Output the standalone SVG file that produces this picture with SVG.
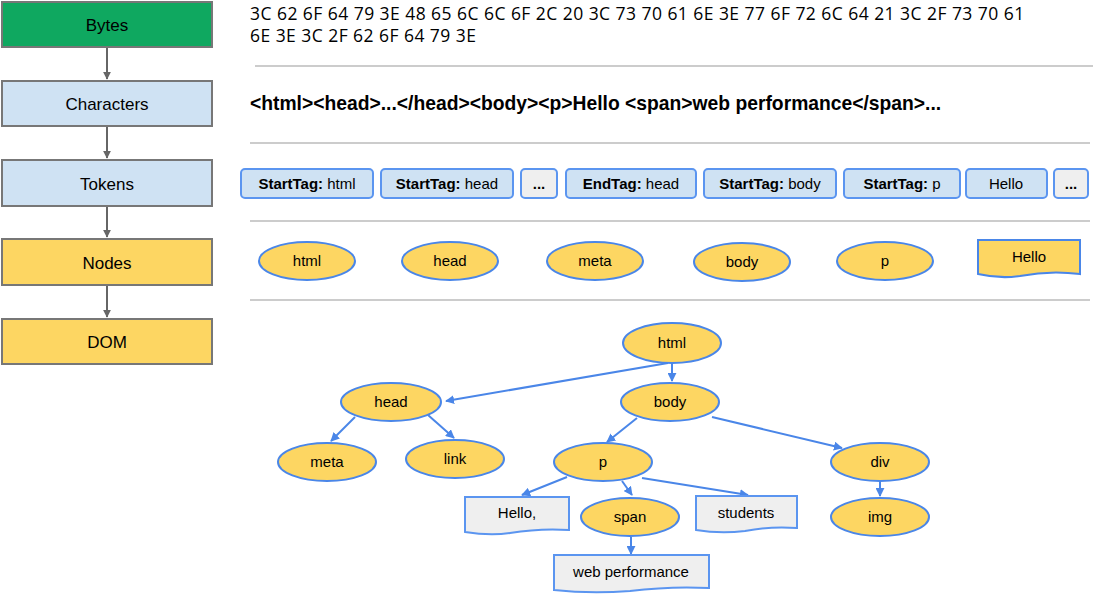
<svg xmlns="http://www.w3.org/2000/svg" width="1095" height="596" viewBox="0 0 1095 596">
<defs>
<marker id="ga" viewBox="0 0 10 10" refX="9" refY="5" markerWidth="4" markerHeight="4" orient="auto"><path d="M0,0L10,5L0,10z" fill="#666"/></marker>
<marker id="ba" viewBox="0 0 10 10" refX="9" refY="5" markerWidth="4.5" markerHeight="4.5" orient="auto"><path d="M0,0L10,5L0,10z" fill="#4a86e8"/></marker>
</defs>
<style>
text{font-family:Arial,"Liberation Sans",sans-serif;fill:#000}
.stage{stroke:#777;stroke-width:2}
.st{font-size:17px;text-anchor:middle}
.hex{font-family:"Open Sans",sans-serif;font-size:17.5px;letter-spacing:0.45px}
.sep{stroke:#ccc;stroke-width:2}
.tok{fill:#cfe2f3;stroke:#5b95f0;stroke-width:2}
.gray{fill:#efefef;stroke:#5b95f0;stroke-width:2}
.nd{fill:#fdd662;stroke:#4a86e8;stroke-width:2}
.tx{font-size:15px;text-anchor:middle}
.g line,.g path{stroke:#666;stroke-width:2;fill:none}
.b line{stroke:#4a86e8;stroke-width:2}
</style>
<g id="stages">
<g id="bytes"><rect class="stage" x="2" y="2" width="210" height="45" fill="#0fa860"/><text class="st" x="107" y="31">Bytes</text></g>
<g id="characters"><rect class="stage" x="2" y="81" width="210" height="45" fill="#cfe2f3"/><text class="st" x="107" y="110">Characters</text></g>
<g id="tokens"><rect class="stage" x="2" y="160" width="210" height="46" fill="#cfe2f3"/><text class="st" x="107" y="190">Tokens</text></g>
<g id="nodes"><rect class="stage" x="2" y="239" width="210" height="46" fill="#fdd662"/><text class="st" x="107" y="269">Nodes</text></g>
<g id="dom"><rect class="stage" x="2" y="319" width="210" height="45" fill="#fdd662"/><text class="st" x="107" y="348">DOM</text></g>
</g>
<g class="g" id="stage-connectors">
<line x1="107" y1="48" x2="107" y2="79" marker-end="url(#ga)"/>
<line x1="107" y1="127" x2="107" y2="158" marker-end="url(#ga)"/>
<line x1="107" y1="207" x2="107" y2="237" marker-end="url(#ga)"/>
<line x1="107" y1="286" x2="107" y2="317" marker-end="url(#ga)"/>
</g>
<text class="hex" x="250" y="20">3C 62 6F 64 79 3E 48 65 6C 6C 6F 2C 20 3C 73 70 61 6E 3E 77 6F 72 6C 64 21 3C 2F 73 70 61</text>
<text class="hex" x="250" y="42">6E 3E 3C 2F 62 6F 64 79 3E</text>
<line class="sep" x1="255" y1="66" x2="1093" y2="66"/>
<text x="250" y="110" font-size="19.3" font-weight="bold">&lt;html&gt;&lt;head&gt;...&lt;/head&gt;&lt;body&gt;&lt;p&gt;Hello &lt;span&gt;web performance&lt;/span&gt;...</text>
<line class="sep" x1="250" y1="143" x2="1090" y2="143"/>
<g id="token-row">
<rect class="tok" x="241" y="169" width="132" height="29" rx="4"/><text class="tx" x="307" y="189"><tspan font-weight="bold">StartTag:</tspan> html</text>
<rect class="tok" x="381" y="169" width="132" height="29" rx="4"/><text class="tx" x="447" y="189"><tspan font-weight="bold">StartTag:</tspan> head</text>
<rect class="gray" x="521" y="169" width="36" height="29" rx="4"/><text class="tx" x="539" y="189" font-weight="bold">...</text>
<rect class="tok" x="566" y="169" width="130" height="29" rx="4"/><text class="tx" x="631" y="189"><tspan font-weight="bold">EndTag:</tspan> head</text>
<rect class="tok" x="704" y="169" width="132" height="29" rx="4"/><text class="tx" x="770" y="189"><tspan font-weight="bold">StartTag:</tspan> body</text>
<rect class="tok" x="844" y="169" width="116" height="29" rx="4"/><text class="tx" x="902" y="189"><tspan font-weight="bold">StartTag:</tspan> p</text>
<rect class="tok" x="966" y="169" width="81" height="29" rx="4"/><text class="tx" x="1006" y="189">Hello</text>
<rect class="gray" x="1054" y="169" width="34" height="29" rx="4"/><text class="tx" x="1071" y="189" font-weight="bold">...</text>
</g>
<line class="sep" x1="250" y1="221" x2="1090" y2="221"/>
<g id="node-row">
<ellipse class="nd" cx="307" cy="261" rx="48" ry="19"/><text class="tx" x="307" y="266">html</text>
<ellipse class="nd" cx="450" cy="261" rx="48" ry="19"/><text class="tx" x="450" y="266">head</text>
<ellipse class="nd" cx="595" cy="261" rx="48" ry="19"/><text class="tx" x="595" y="266">meta</text>
<ellipse class="nd" cx="742" cy="262" rx="48" ry="19"/><text class="tx" x="742" y="267">body</text>
<ellipse class="nd" cx="885" cy="261" rx="48" ry="19"/><text class="tx" x="885" y="266">p</text>
<path class="nd" d="M978,240H1080V274Q1050,270 1020,276Q1000,279 978,274Z"/><text class="tx" x="1029" y="262">Hello</text>
</g>
<line class="sep" x1="250" y1="300" x2="1090" y2="300"/>
<g class="b" id="dom-connectors">
<line x1="668" y1="363" x2="446" y2="401" marker-end="url(#ba)"/>
<line x1="672" y1="363" x2="672" y2="381" marker-end="url(#ba)"/>
<line x1="355" y1="417" x2="331" y2="441" marker-end="url(#ba)"/>
<line x1="428" y1="415" x2="454" y2="438" marker-end="url(#ba)"/>
<line x1="637" y1="418" x2="607" y2="442" marker-end="url(#ba)"/>
<line x1="712" y1="417" x2="842" y2="448" marker-end="url(#ba)"/>
<line x1="567" y1="477" x2="522" y2="495" marker-end="url(#ba)"/>
<line x1="622" y1="481" x2="632" y2="495" marker-end="url(#ba)"/>
<line x1="642" y1="478" x2="748" y2="495" marker-end="url(#ba)"/>
<line x1="631" y1="537" x2="631" y2="554" marker-end="url(#ba)"/>
<line x1="880" y1="482" x2="880" y2="496" marker-end="url(#ba)"/>
</g>
<g id="dom-tree">
<g id="d-html"><ellipse class="nd" cx="672" cy="343" rx="49" ry="20"/><text class="tx" x="672" y="348">html</text></g>
<g id="d-head"><ellipse class="nd" cx="391" cy="402" rx="50" ry="19"/><text class="tx" x="391" y="407">head</text></g>
<g id="d-body"><ellipse class="nd" cx="670" cy="402" rx="49" ry="19"/><text class="tx" x="670" y="407">body</text></g>
<g id="d-meta"><ellipse class="nd" cx="327" cy="462" rx="49" ry="19"/><text class="tx" x="327" y="467">meta</text></g>
<g id="d-link"><ellipse class="nd" cx="455" cy="459" rx="49" ry="19"/><text class="tx" x="455" y="464">link</text></g>
<g id="d-p"><ellipse class="nd" cx="603" cy="462" rx="49" ry="19"/><text class="tx" x="603" y="467">p</text></g>
<g id="d-div"><ellipse class="nd" cx="880" cy="462" rx="49" ry="19"/><text class="tx" x="880" y="467">div</text></g>
<g id="d-hello"><path class="gray" d="M465,497H569V530Q540,528 510,533Q490,536 465,532Z"/><text class="tx" x="517" y="518">Hello,</text></g>
<g id="d-span"><ellipse class="nd" cx="630" cy="517" rx="49" ry="19"/><text class="tx" x="630" y="522">span</text></g>
<g id="d-students"><path class="gray" d="M696,496H797V528Q770,526 745,531Q720,534 696,530Z"/><text class="tx" x="746" y="518">students</text></g>
<g id="d-img"><ellipse class="nd" cx="880" cy="517" rx="49" ry="19"/><text class="tx" x="880" y="522">img</text></g>
<g id="d-web"><path class="gray" d="M554,555H709V588Q670,586 630,591Q590,594 554,590Z"/><text class="tx" x="631" y="577">web performance</text></g>
</g>
</svg>
